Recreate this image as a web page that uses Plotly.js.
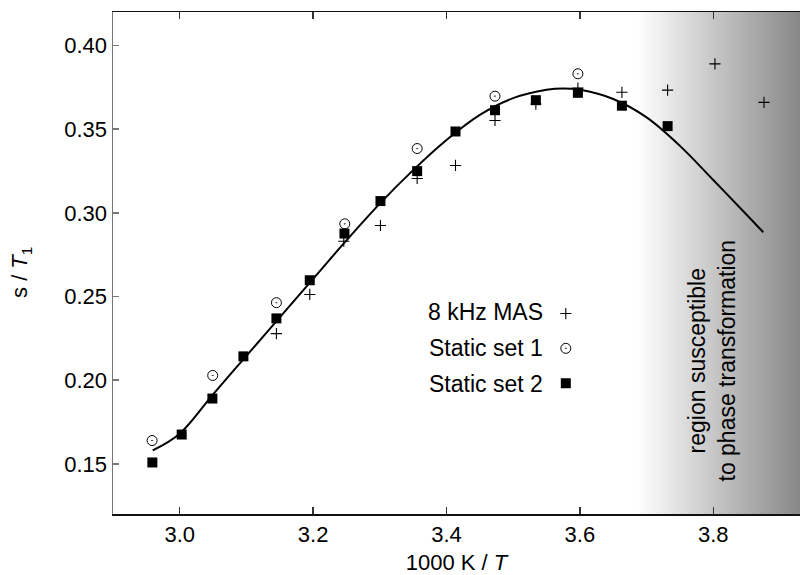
<!DOCTYPE html>
<html>
<head>
<meta charset="utf-8">
<script src="https://cdn.plot.ly/plotly-3.0.1.min.js"></script>
<style>html,body{margin:0;padding:0;background:#fff;}#chart{width:800px;height:575px;}</style>
</head>
<body>
<div id="chart"></div>
<script>
// 8 kHz MAS (crosses)
const masX = [3.145, 3.195, 3.246, 3.301, 3.356, 3.4135, 3.4727, 3.534, 3.597, 3.663, 3.7315, 3.8025, 3.876];
const masY = [0.2278, 0.2512, 0.283, 0.2924, 0.3205, 0.3283, 0.3552, 0.365, 0.3745, 0.372, 0.3733, 0.389, 0.366];
// Static set 1 (open circles with dot)
const set1X = [2.9586, 3.0495, 3.145, 3.2475, 3.356, 3.4727, 3.597];
const set1Y = [0.1639, 0.2028, 0.2463, 0.2934, 0.3384, 0.3697, 0.3831];
// Static set 2 (filled squares)
const set2X = [2.959, 3.003, 3.049, 3.0955, 3.145, 3.195, 3.247, 3.301, 3.356, 3.4135, 3.4727, 3.534, 3.597, 3.663, 3.7315];
const set2Y = [0.1508, 0.1675, 0.189, 0.2142, 0.2369, 0.2597, 0.2876, 0.307, 0.3249, 0.3486, 0.3613, 0.3673, 0.3717, 0.364, 0.3518];
// fitted curve
const fitX = [2.9595, 3.00, 3.05, 3.10, 3.15, 3.20, 3.25, 3.30, 3.35, 3.40, 3.45, 3.50, 3.55, 3.575, 3.60, 3.65, 3.70, 3.75, 3.80, 3.85, 3.875];
const fitY = [0.158, 0.168, 0.1915, 0.2145, 0.2375, 0.2605, 0.2835, 0.3055, 0.3255, 0.3435, 0.3585, 0.3685, 0.3735, 0.3743, 0.3735, 0.368, 0.3570, 0.3400, 0.3196, 0.2988, 0.2884];

const legendNames = ['8 kHz MAS', 'Static set 1', 'Static set 2'];
const regionLabel = 'region susceptible<br>to phase transformation';
const xTitle = '1000 K / <i>T</i>';
const yTitle = 's / <i>T</i><sub>1</sub>';

const FONT = 'Liberation Sans, Arial, sans-serif';

const gradSvg = "<svg xmlns='http://www.w3.org/2000/svg' width='100' height='100' preserveAspectRatio='none'>" +
  "<defs><linearGradient id='g' x1='0' x2='1' y1='0' y2='0'>" +
  "<stop offset='0' stop-color='#ffffff'/><stop offset='1' stop-color='#878787'/>" +
  "</linearGradient></defs><rect width='100' height='100' fill='url(#g)'/></svg>";
const gradSrc = 'data:image/svg+xml;charset=utf-8,' + encodeURIComponent(gradSvg);

const traces = [
  {x: fitX, y: fitY, mode: 'lines', line: {color: '#000', width: 2, shape: 'spline'}, showlegend: false, hoverinfo: 'skip'},
  {x: masX, y: masY, mode: 'markers', name: '', legendgroup: 'a',
   marker: {symbol: 'cross-thin-open', size: 8, color: '#000', line: {width: 1.1, color: '#000'}}},
  {x: set1X, y: set1Y, mode: 'markers', name: '', legendgroup: 'b',
   marker: {symbol: 'circle-open-dot', size: 10, color: '#000', line: {width: 1, color: '#000'}}},
  {x: set2X, y: set2Y, mode: 'markers', name: '', legendgroup: 'c',
   marker: {symbol: 'square', size: 10, color: '#000', line: {width: 0}}}
];

const legX = 0.6288;
const legFont = {family: FONT, size: 23, color: '#000'};
const annotations = [
  {text: legendNames[0], xref: 'paper', yref: 'paper', x: legX, y: 0.403, xanchor: 'right', yanchor: 'middle', showarrow: false, font: legFont},
  {text: legendNames[1], xref: 'paper', yref: 'paper', x: legX, y: 0.330, xanchor: 'right', yanchor: 'middle', showarrow: false, font: legFont},
  {text: legendNames[2], xref: 'paper', yref: 'paper', x: legX, y: 0.259, xanchor: 'right', yanchor: 'middle', showarrow: false, font: legFont},
  {text: regionLabel, xref: 'x', yref: 'paper', x: 3.7975, y: 0.305, xanchor: 'center', yanchor: 'middle',
   textangle: -90, showarrow: false, align: 'center', font: {family: FONT, size: 23, color: '#000'}},
  {text: yTitle, xref: 'paper', yref: 'paper', x: -0.134, y: 0.482, xanchor: 'center', yanchor: 'middle',
   textangle: -90, showarrow: false, font: {family: FONT, size: 22, color: '#000'}}
];

const layout = {
  width: 800, height: 575,
  margin: {l: 113, r: 0, t: 12, b: 61},
  paper_bgcolor: '#fff', plot_bgcolor: 'rgba(0,0,0,0)',
  font: {family: FONT, size: 22, color: '#000'},
  xaxis: {
    range: [2.9, 3.93], dtick: 0.2, tick0: 3.0, tickformat: '.1f',
    ticks: 'inside', ticklen: 7, tickwidth: 1.5, tickcolor: '#333',
    showline: true, linecolor: '#111', linewidth: 1.5, mirror: 'ticks',
    showgrid: false, zeroline: false,
    tickfont: {family: FONT, size: 22, color: '#000'},
    title: {text: xTitle, font: {family: FONT, size: 22, color: '#000'}, standoff: 10}
  },
  yaxis: {
    range: [0.12, 0.42], dtick: 0.05, tick0: 0.15, tickformat: '.2f',
    ticks: 'inside', ticklen: 6, tickwidth: 1.5, tickcolor: '#777',
    showline: true, linecolor: '#777', linewidth: 1.5, mirror: false,
    showgrid: false, zeroline: false,
    tickfont: {family: FONT, size: 22, color: '#000'}
  },
  showlegend: true,
  legend: {x: 0.63, y: 0.433, xanchor: 'left', yanchor: 'top', bgcolor: 'rgba(0,0,0,0)',
           tracegroupgap: 11, font: {size: 16}, traceorder: 'grouped'},
  images: [{source: gradSrc, xref: 'x', yref: 'paper', x: 3.686, y: 1, sizex: 0.245, sizey: 1,
            sizing: 'stretch', xanchor: 'left', yanchor: 'top', layer: 'below'}],
  annotations: annotations
};

Plotly.newPlot('chart', traces, layout, {displayModeBar: false, staticPlot: true}).then(function (gd) {
  gd.querySelectorAll('text').forEach(function (t) {
    if (!t.textContent.trim()) t.parentNode.removeChild(t);
  });
});
</script>
</body>
</html>
